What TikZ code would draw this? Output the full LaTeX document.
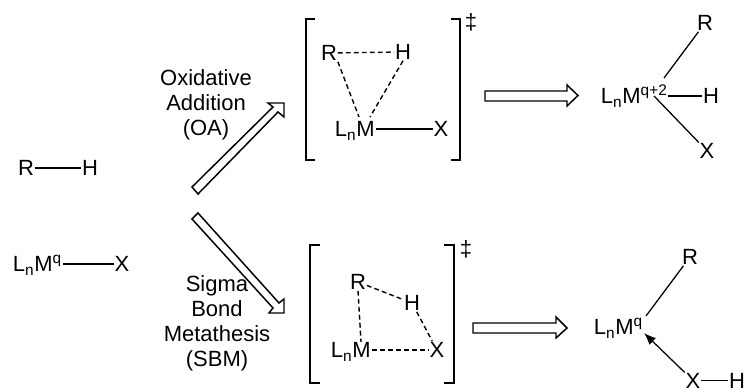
\documentclass[tikz,border=0pt]{standalone}
\usepackage{fontspec}
\setmainfont{Liberation Sans}
\usetikzlibrary{arrows.meta}
\tikzset{
  x=0.75pt,y=-0.75pt,
  atom/.style={inner sep=0.5pt,font=\fontsize{16.5}{16.5}\selectfont,text height=11.8pt,text depth=0pt},
  lab/.style={inner sep=0pt,font=\fontsize{16.5}{18.8}\selectfont,align=center},
  bond/.style={line width=0.95pt},
  dbond/.style={line width=1.05pt,dash pattern=on 3.6pt off 2.4pt},
  brk/.style={line width=0.95pt},
  hollow/.style={line width=1.1pt,fill=white,line join=miter}
}
\newcommand{\LnM}[1]{L\textsubscript{n}M\textsuperscript{#1}}
\begin{document}
\begin{tikzpicture}
\useasboundingbox (0,0) rectangle (749,392);
\node[atom] (r0) at (26,168) {R};
\node[atom] (h0) at (90,168) {H};
\draw[bond] (r0) -- (h0);
\node[atom,anchor=west] (m0) at (12,264) {\LnM{q}};
\node[atom] (x0) at (122,264) {X};
\draw[bond] (m0) -- (x0);
\node[lab] (oa) at (206,105) {Oxidative\\Addition\\(OA)};
\node[lab] (sbm) at (217,323) {Sigma\\Bond\\Metathesis\\(SBM)};
\draw[hollow] (192,187) -- (198,194) -- (278,112) -- (284,117) -- (284,103) -- (268,103) -- (273,107) -- cycle;
\draw[hollow] (198,213) -- (192,219) -- (273,308) -- (269,313) -- (284,313) -- (284,299) -- (279,303) -- cycle;
\draw[hollow] (485,91) -- (567,91) -- (567,85) -- (578,95.5) -- (567,106) -- (567,101) -- (485,101) -- cycle;
\draw[hollow] (473,323) -- (556,323) -- (556,317) -- (567,328) -- (556,338) -- (556,333) -- (473,333) -- cycle;
\coordinate (a1) at (315,19); \coordinate (a2) at (306,19); \coordinate (a3) at (306,160); \coordinate (a4) at (315,160);
\draw[brk] (a1) -- (a2) -- (a3) -- (a4);
\coordinate (b1) at (451,19); \coordinate (b2) at (460,19); \coordinate (b3) at (460,160); \coordinate (b4) at (451,160);
\draw[brk] (b1) -- (b2) -- (b3) -- (b4);
\node[atom] (d1) at (471,22) {‡};
\node[atom] (r1) at (329,53) {R};
\node[atom] (h1) at (403,52) {H};
\node[atom,anchor=west] (m1) at (334,129) {\LnM{}};
\node[atom] (x1) at (441,129) {X};
\draw[dbond] (r1) -- (h1);
\draw[dbond] (r1.south east) -- (359,117);
\draw[dbond] (h1.south) -- (370,117);
\draw[bond] (m1) -- (x1);
\coordinate (c1) at (320,245); \coordinate (c2) at (310,245); \coordinate (c3) at (310,383); \coordinate (c4) at (320,383);
\draw[brk] (c1) -- (c2) -- (c3) -- (c4);
\coordinate (e1) at (444,245); \coordinate (e2) at (454,245); \coordinate (e3) at (454,383); \coordinate (e4) at (444,383);
\draw[brk] (e1) -- (e2) -- (e3) -- (e4);
\node[atom] (d2) at (466,249) {‡};
\node[atom] (r2) at (358,282) {R};
\node[atom] (h2) at (412,303) {H};
\node[atom,anchor=west] (m2) at (330,350) {\LnM{}};
\node[atom] (x2) at (437,350) {X};
\draw[dbond] (r2) -- (h2);
\draw[dbond] (r2.south) -- (361,342);
\draw[dbond] (h2) -- (x2);
\draw[dbond] (m2) -- (x2);
\node[atom,anchor=west] (m3) at (600,96) {\LnM{q+2}};
\node[atom] (r3) at (705,23) {R};
\node[atom] (h3) at (711,96) {H};
\node[atom] (x3) at (707,151) {X};
\draw[bond] (664,78) -- (r3);
\draw[bond] (m3) -- (h3);
\draw[bond] (654,96) -- (x3);
\node[atom,anchor=west] (m4) at (593,327) {\LnM{q}};
\node[atom] (r4) at (690,257) {R};
\node[atom] (x4) at (693,380.5) {X};
\node[atom] (h4) at (737,380.5) {H};
\draw[bond] (646,316) -- (r4);
\draw[bond,-{Latex[length=9pt,width=7pt]}] (x4) -- (644,333);
\draw[bond] (x4) -- (h4);
\end{tikzpicture}
\end{document}
